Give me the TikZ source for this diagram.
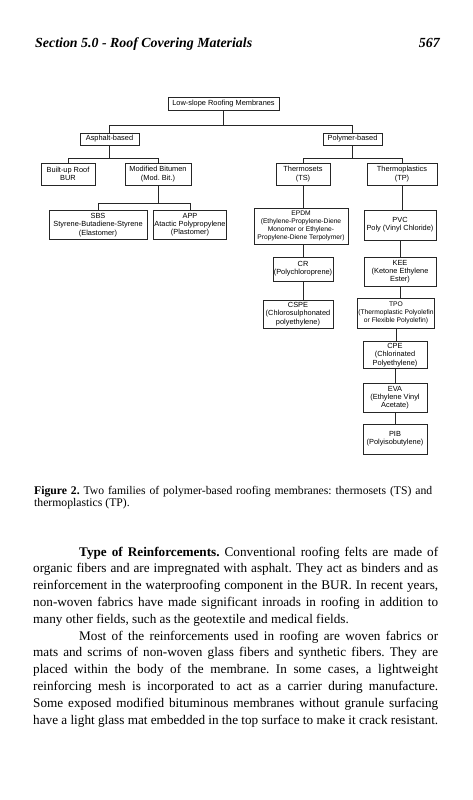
\documentclass[tikz,border=0pt]{standalone}
\usepackage{fontspec}
\setmainfont{Liberation Serif}
\newfontfamily\chartfont{Liberation Sans}
\usetikzlibrary{shadows}
\frenchspacing
\begin{document}
\begin{tikzpicture}[x=1pt,y=-1pt,
  box/.style={draw=black!85, line width=0.6pt, fill=white,
    drop shadow={shadow xshift=0.8pt, shadow yshift=-0.8pt, opacity=0.9, fill=black!80},
    font=\chartfont\fontsize{7.4}{8.2}\selectfont, align=center, inner sep=1pt},
  small/.style={font=\chartfont\fontsize{6.7}{8}\selectfont},
  link/.style={draw=black!85, line width=0.6pt},
  bodytext/.style={anchor=base west, inner sep=0pt, font=\frenchspacing\fontsize{13.2}{16.8}\selectfont},
  captext/.style={anchor=base west, inner sep=0pt, font=\frenchspacing\fontsize{11.7}{12.5}\selectfont}]
\fill[white] (0,0) rectangle (473,800);
\useasboundingbox (0,0) rectangle (473,800);

% header
\node[anchor=base west, inner sep=0pt, font=\bfseries\itshape\fontsize{13.9}{16}\selectfont] (hdr) at (35,47.5) {Section 5.0 - Roof Covering Materials};
\node[anchor=base east, inner sep=0pt, font=\bfseries\itshape\fontsize{13.9}{16}\selectfont] (pg) at (440,47.5) {567};

% chart
\node[box, minimum width=111pt, minimum height=13pt] (top) at (223.5,103.5) {Low-slope Roofing Membranes};
\node[box, minimum width=59pt, minimum height=12pt] (asph) at (109.5,139) {Asphalt-based};
\node[box, minimum width=59pt, minimum height=12pt] (poly) at (352.5,139) {Polymer-based};
\node[box, minimum width=54pt, minimum height=22pt] (bur) at (68,174) {Built-up Roof\\BUR};
\node[box, minimum width=66pt, minimum height=22pt] (modbit) at (158,174) {Modified Bitumen\\(Mod. Bit.)};
\node[box, minimum width=54pt, minimum height=22pt] (ts) at (303,174) {Thermosets\\(TS)};
\node[box, minimum width=70pt, minimum height=22pt] (tp) at (402,174) {Thermoplastics\\(TP)};
\node[box, minimum width=98pt, minimum height=29pt] (sbs) at (98,225) {SBS\\Styrene-Butadiene-Styrene\\(Elastomer)};
\node[box, minimum width=66pt, minimum height=29pt] (app) at (190,225) {APP\\Atactic Polypropylene\\(Plastomer)};
\node[box, small, minimum width=94pt, minimum height=36pt] (epdm) at (301,226) {EPDM\\(Ethylene-Propylene-Diene\\Monomer or Ethylene-\\Propylene-Diene Terpolymer)};
\node[box, minimum width=72pt, minimum height=30pt] (pvc) at (400,225) {PVC\\Poly (Vinyl Chloride)};
\node[box, minimum width=58pt, minimum height=24pt] (cr) at (303,269) {CR\\(Polychloroprene)};
\node[box, minimum width=72pt, minimum height=29pt] (kee) at (400,271.5) {KEE\\(Ketone Ethylene\\Ester)};
\node[box, minimum width=70pt, minimum height=28pt] (cspe) at (298,314) {CSPE\\(Chlorosulphonated\\polyethylene)};
\node[box, small, minimum width=76pt, minimum height=30pt] (tpo) at (396,313) {TPO\\(Thermoplastic Polyolefin\\or Flexible Polyolefin)};
\node[box, minimum width=64pt, minimum height=27pt] (cfe) at (395,355) {CPE\\(Chlorinated\\Polyethylene)};
\node[box, minimum width=64pt, minimum height=29pt] (eva) at (395,397.5) {EVA\\(Ethylene Vinyl\\Acetate)};
\node[box, minimum width=64pt, minimum height=30pt] (pib) at (395,439) {PIB\\(Polyisobutylene)};

\coordinate (b1) at (0,125);
\coordinate (b2) at (0,158);
\coordinate (b3) at (0,203);
\draw[link] (top.south) -- (top.south |- b1);
\draw[link] (asph.north) -- (asph.north |- b1) -- (poly.north |- b1) -- (poly.north);
\draw[link] (asph.south) -- (asph.south |- b2);
\draw[link] (bur.north) -- (bur.north |- b2) -- (modbit.north |- b2) -- (modbit.north);
\draw[link] (poly.south) -- (poly.south |- b2);
\draw[link] (ts.north) -- (ts.north |- b2) -- (tp.north |- b2) -- (tp.north);
\draw[link] (modbit.south) -- (modbit.south |- b3);
\draw[link] (sbs.north) -- (sbs.north |- b3) -- (app.north |- b3) -- (app.north);
\draw[link] (ts.south) -- (ts.south |- epdm.north);
\draw[link] (cr.north |- epdm.south) -- (cr.north);
\draw[link] (cr.south) -- (cr.south |- cspe.north);
\draw[link] (tp.south) -- (tp.south |- pvc.north);
\draw[link] (pvc.south) -- (pvc.south |- kee.north);
\draw[link] (kee.south) -- (kee.south |- tpo.north);
\draw[link] (tpo.south) -- (tpo.south |- cfe.north);
\draw[link] (cfe.south) -- (cfe.south |- eva.north);
\draw[link] (eva.south) -- (eva.south |- pib.north);

% caption
\node[captext] (cap) at (34,494) {\vtop{%
\hbox to 398pt{\textbf{Figure 2.} Two families of polymer-based roofing membranes: thermosets (TS) and}
\hbox{thermoplastics (TP).}}};

% body
\node[bodytext] (body) at (33,556) {\vtop{%
\hbox to 405pt{\hspace*{46pt}\textbf{Type of Reinforcements.} Conventional roofing felts are made of}
\hbox to 405pt{organic fibers and are impregnated with asphalt. They act as binders and as}
\hbox to 405pt{reinforcement in the waterproofing component in the BUR. In recent years,}
\hbox to 405pt{non-woven fabrics have made significant inroads in roofing in addition to}
\hbox{many other fields, such as the geotextile and medical fields.}
\hbox to 405pt{\hspace*{46pt}Most of the reinforcements used in roofing are woven fabrics or}
\hbox to 405pt{mats and scrims of non-woven glass fibers and synthetic fibers. They are}
\hbox to 405pt{placed within the body of the membrane. In some cases, a lightweight}
\hbox to 405pt{reinforcing mesh is incorporated to act as a carrier during manufacture.}
\hbox to 405pt{Some exposed modified bituminous membranes without granule surfacing}
\hbox to 405pt{have a light glass mat embedded in the top surface to make it crack resistant.}}};
\end{tikzpicture}
\end{document}
